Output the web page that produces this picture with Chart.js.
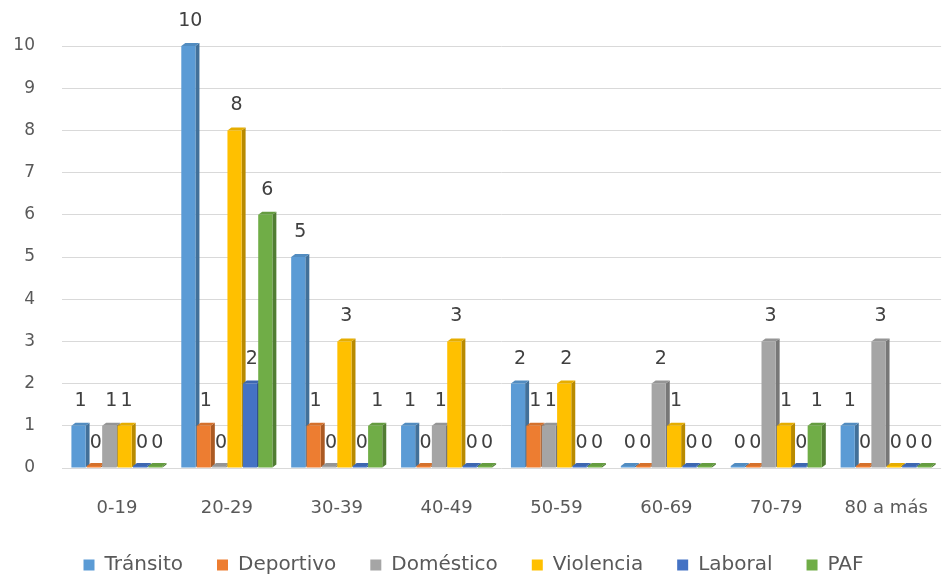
<!DOCTYPE html>
<html>
<head>
<meta charset="utf-8">
<script src="https://cdn.jsdelivr.net/npm/chart.js@4/dist/chart.umd.min.js"></script>
<style>
  html, body { margin: 0; padding: 0; background: #fff; }
  #wrap { width: 950px; height: 580px; }
</style>
</head>
<body>
<div id="wrap"><canvas id="lesionesChart"></canvas></div>
<script>
const categories = ["0-19", "20-29", "30-39", "40-49", "50-59", "60-69", "70-79", "80 a más"];
const transito   = [1, 10, 5, 1, 2, 0, 0, 1];
const deportivo  = [0, 1, 1, 0, 1, 0, 0, 0];
const domestico  = [1, 0, 0, 1, 1, 2, 3, 3];
const violencia  = [1, 8, 3, 3, 2, 1, 1, 0];
const laboral    = [0, 2, 0, 0, 0, 0, 0, 0];
const paf        = [0, 6, 1, 0, 0, 0, 1, 0];
const yTicks     = [0, 1, 2, 3, 4, 5, 6, 7, 8, 9, 10];

const FONT = "'DejaVu Sans', sans-serif";
const TEXT = "#595959";

// darker shade for the 3D side face
function shade(hex, f) {
    const n = parseInt(hex.slice(1), 16);
    const r = Math.round(((n >> 16) & 255) * f);
    const g = Math.round(((n >> 8) & 255) * f);
    const b = Math.round((n & 255) * f);
    return `rgb(${r},${g},${b})`;
}

// fake 3D: side + top face behind every bar, labels on top
const bar3d = {
    id: "bar3d",
    beforeDatasetsDraw(chart) {
        const ctx = chart.ctx;
        const d = 4, dy = 3;
        chart.data.datasets.forEach((ds, i) => {
            const meta = chart.getDatasetMeta(i);
            meta.data.forEach(bar => {
                const { x, y, base, width } = bar.getProps(["x", "y", "base", "width"], true);
                const r = x + width / 2, l = x - width / 2;
                ctx.save();
                ctx.fillStyle = shade(ds.backgroundColor, 0.72);
                ctx.beginPath();
                ctx.moveTo(r, y);
                ctx.lineTo(r + d, y - dy);
                ctx.lineTo(r + d, base - dy);
                ctx.lineTo(r, base);
                ctx.closePath();
                ctx.fill();
                ctx.fillStyle = shade(ds.backgroundColor, 0.9);
                ctx.beginPath();
                ctx.moveTo(l, y);
                ctx.lineTo(l + d, y - dy);
                ctx.lineTo(r + d, y - dy);
                ctx.lineTo(r, y);
                ctx.closePath();
                ctx.fill();
                ctx.restore();
            });
        });
    },
    afterDatasetsDraw(chart) {
        const ctx = chart.ctx;
        const yScale = chart.scales.y;
        ctx.save();
        ctx.font = `19px ${FONT}`;
        ctx.fillStyle = "#404040";
        ctx.textAlign = "center";
        ctx.textBaseline = "middle";
        chart.data.datasets.forEach((ds, i) => {
            const meta = chart.getDatasetMeta(i);
            meta.data.forEach((bar, j) => {
                const v = ds.data[j];
                ctx.fillText(String(v), bar.x + 2, yScale.getPixelForValue(v) - 25);
            });
        });
        ctx.restore();
    }
};

const series = [
    ["Tránsito", transito, "#5B9BD5"],
    ["Deportivo", deportivo, "#ED7D31"],
    ["Doméstico", domestico, "#A5A5A5"],
    ["Violencia", violencia, "#FFC000"],
    ["Laboral", laboral, "#4472C4"],
    ["PAF", paf, "#70AD47"],
];

new Chart(document.getElementById("lesionesChart"), {
    type: "bar",
    data: {
        labels: categories,
        datasets: series.map(([label, data, color]) => ({
            label: label,
            data: data,
            backgroundColor: color,
            minBarLength: 2,
            categoryPercentage: 0.84,
            barPercentage: 0.92,
        }))
    },
    options: {
        responsive: true,
        maintainAspectRatio: false,
        animation: false,
        layout: { padding: { top: 46, right: 3, left: 0, bottom: -5 } },
        plugins: {
            legend: {
                position: "bottom",
                labels: {
                    color: TEXT,
                    font: { family: FONT, size: 20 },
                    boxWidth: 11,
                    boxHeight: 11,
                    padding: 34,
                }
            },
            tooltip: { enabled: false }
        },
        scales: {
            x: {
                grid: { display: false },
                border: { display: false },
                afterFit: axis => { axis.height = 53; },
                ticks: { color: TEXT, font: { family: FONT, size: 18 }, padding: 22 }
            },
            y: {
                min: 0,
                max: 10,
                afterBuildTicks: axis => { axis.ticks = yTicks.map(v => ({ value: v })); },
                afterFit: axis => { axis.width = 62; },
                grid: { color: "#d9d9d9", drawTicks: false },
                border: { display: false },
                ticks: { color: TEXT, font: { family: FONT, size: 17 }, padding: 27 }
            }
        }
    },
    plugins: [bar3d]
});
</script>
</body>
</html>
